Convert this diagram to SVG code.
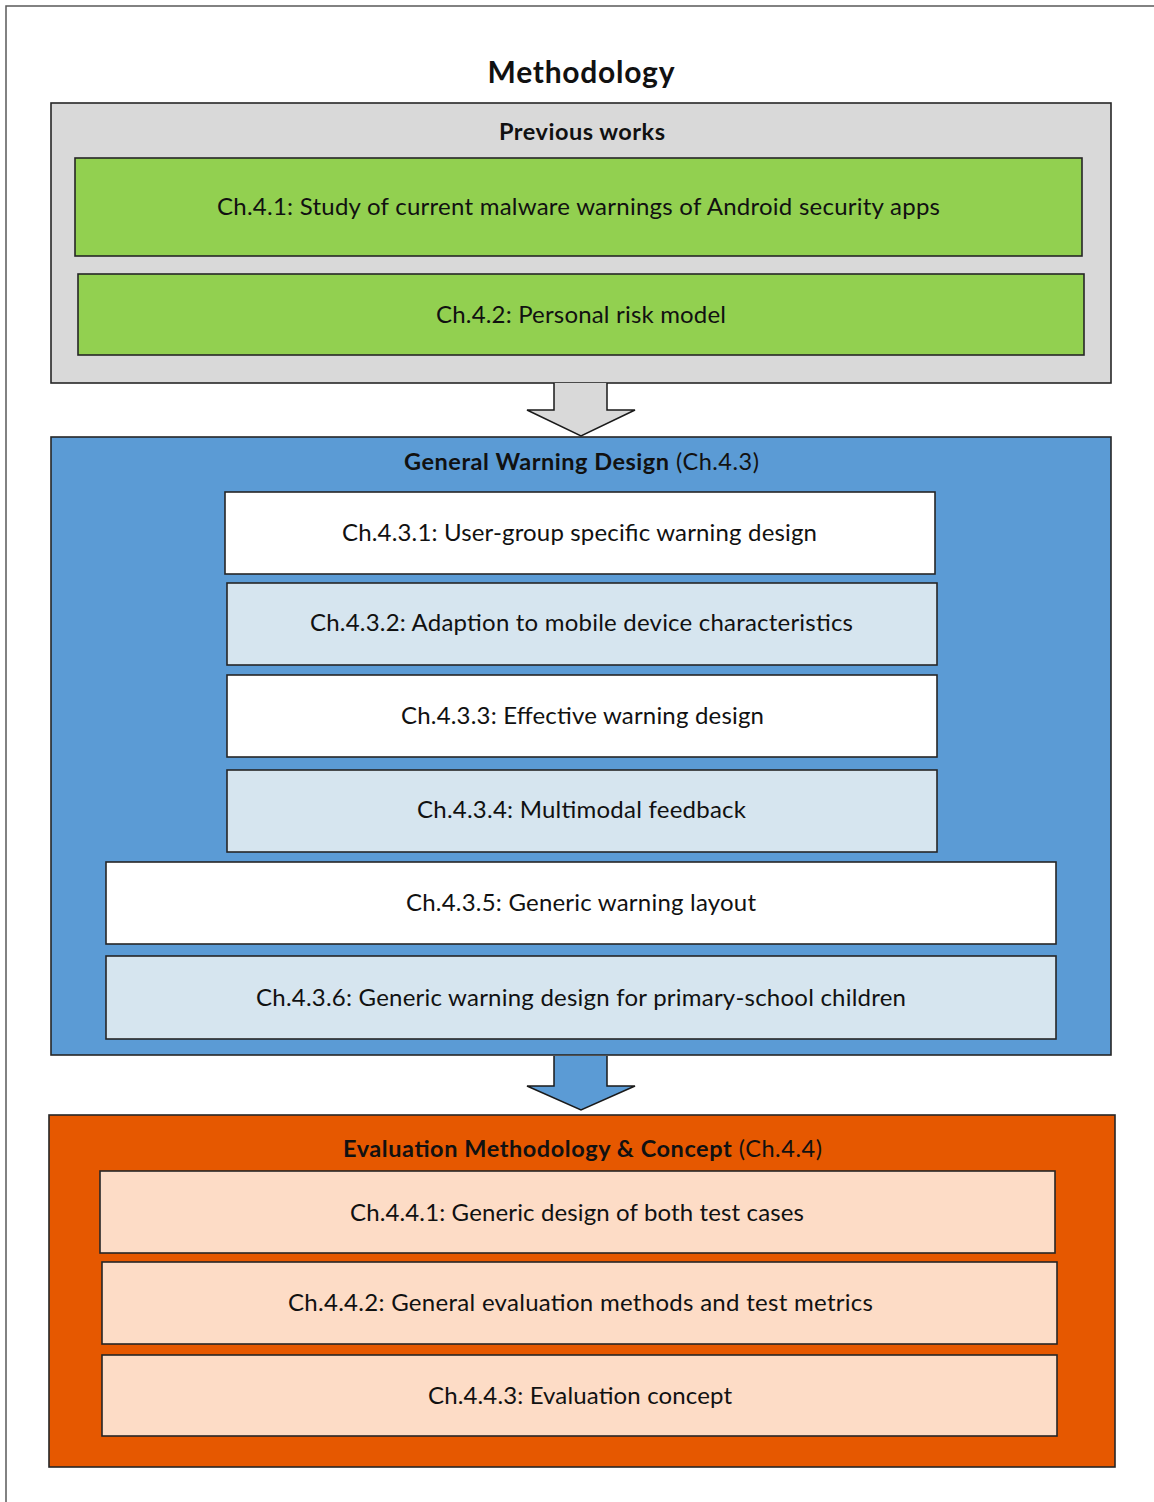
<svg xmlns="http://www.w3.org/2000/svg" width="1154" height="1502" viewBox="0 0 1154 1502">
  <style>
    .frame { fill: #ffffff; stroke: #5a5a5a; stroke-width: 1.5; }
    .box { stroke: #262626; stroke-width: 1.6; }
    .grey { fill: #d9d9d9; }
    .green { fill: #92d050; }
    .blue { fill: #5b9bd5; }
    .white { fill: #ffffff; }
    .pale { fill: #d6e5ef; }
    .orange { fill: #e65800; }
    .peach { fill: #fddcc6; }
    text { font-family: Lato, "Open Sans", "Liberation Sans", sans-serif; fill: #111111; text-anchor: middle; }
    .lbl { font-size: 24px; }
    .hdr { font-size: 23.5px; }
    .b { font-weight: bold; }
    .title { font-size: 30px; font-weight: bold; }
    .arrow { stroke: #1a1a1a; stroke-width: 1.5; stroke-linejoin: miter; }
  </style>

  <!-- page frame -->
  <rect class="frame" x="6" y="6" width="1160" height="1510"/>

  <text class="title" x="581" y="83" textLength="187">Methodology</text>

  <!-- Previous works -->
  <g id="previous-works">
    <rect class="box grey" x="51" y="103" width="1060" height="280"/>
    <text class="hdr b" x="582" y="140" textLength="166">Previous works</text>
  </g>
  <g id="ch4-1">
    <rect class="box green" x="75" y="158" width="1007" height="98"/>
    <text class="lbl" x="578.5" y="215" textLength="723">Ch.4.1: Study of current malware warnings of Android security apps</text>
  </g>
  <g id="ch4-2">
    <rect class="box green" x="78" y="274" width="1006" height="81"/>
    <text class="lbl" x="581" y="323" textLength="290">Ch.4.2: Personal risk model</text>
  </g>

  <!-- General warning design -->
  <g id="general-warning-design">
    <rect class="box blue" x="51" y="437" width="1060" height="618"/>
    <text class="hdr" x="581.5" y="470" textLength="355"><tspan class="b">General Warning Design</tspan> (Ch.4.3)</text>
  </g>
  <g id="ch4-3-1">
    <rect class="box white" x="225" y="492" width="710" height="82"/>
    <text class="lbl" x="579.5" y="541" textLength="475">Ch.4.3.1: User-group specific warning design</text>
  </g>
  <g id="ch4-3-2">
    <rect class="box pale" x="227" y="583" width="710" height="82"/>
    <text class="lbl" x="581.5" y="631" textLength="543">Ch.4.3.2: Adaption to mobile device characteristics</text>
  </g>
  <g id="ch4-3-3">
    <rect class="box white" x="227" y="675" width="710" height="82"/>
    <text class="lbl" x="582.5" y="724" textLength="363">Ch.4.3.3: Effective warning design</text>
  </g>
  <g id="ch4-3-4">
    <rect class="box pale" x="227" y="770" width="710" height="82"/>
    <text class="lbl" x="581.5" y="818" textLength="329">Ch.4.3.4: Multimodal feedback</text>
  </g>
  <g id="ch4-3-5">
    <rect class="box white" x="106" y="862" width="950" height="82"/>
    <text class="lbl" x="581" y="911" textLength="350">Ch.4.3.5: Generic warning layout</text>
  </g>
  <g id="ch4-3-6">
    <rect class="box pale" x="106" y="956" width="950" height="83"/>
    <text class="lbl" x="581" y="1006" textLength="650">Ch.4.3.6: Generic warning design for primary-school children</text>
  </g>

  <!-- Evaluation -->
  <g id="evaluation">
    <rect class="box orange" x="49" y="1115" width="1066" height="352"/>
    <text class="hdr" x="582.5" y="1157" textLength="479"><tspan class="b">Evaluation Methodology &amp; Concept</tspan> (Ch.4.4)</text>
  </g>
  <g id="ch4-4-1">
    <rect class="box peach" x="100" y="1171" width="955" height="82"/>
    <text class="lbl" x="577" y="1221" textLength="454">Ch.4.4.1: Generic design of both test cases</text>
  </g>
  <g id="ch4-4-2">
    <rect class="box peach" x="102" y="1262" width="955" height="82"/>
    <text class="lbl" x="580.5" y="1311" textLength="585">Ch.4.4.2: General evaluation methods and test metrics</text>
  </g>
  <g id="ch4-4-3">
    <rect class="box peach" x="102" y="1355" width="955" height="81"/>
    <text class="lbl" x="580" y="1404" textLength="304">Ch.4.4.3: Evaluation concept</text>
  </g>

  <!-- block arrows between stages -->
  <g id="connectors">
    <path class="arrow grey" d="M554 383 V410 H527 L581 436 L635 410 H607 V383"/>
    <path class="arrow blue" d="M554 1056 V1086 H527 L581 1110 L635 1086 H607 V1056"/>
  </g>
</svg>
